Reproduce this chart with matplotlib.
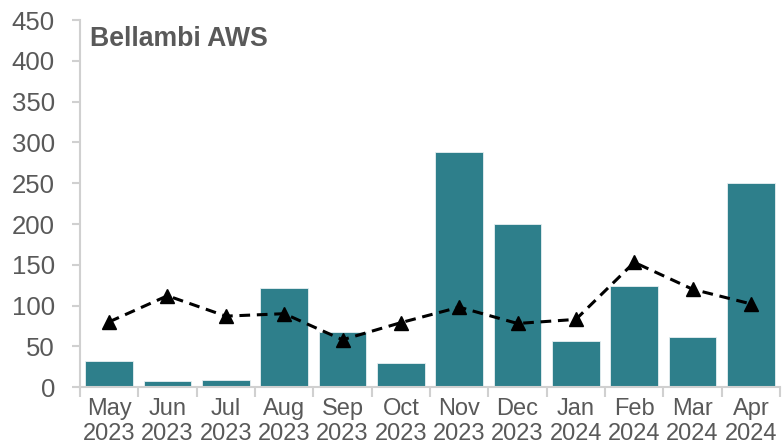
import matplotlib
matplotlib.use("Agg")
import matplotlib.pyplot as plt
import numpy as np

months = ["May", "Jun", "Jul", "Aug", "Sep", "Oct", "Nov", "Dec", "Jan", "Feb", "Mar", "Apr"]
years = ["2023"] * 8 + ["2024"] * 4
rainfall = [32, 7, 9, 122, 68, 29, 288, 200, 57, 124, 62, 250]
mean_rain = [80, 112, 87, 90, 58, 79, 98, 78, 83, 153, 120, 102]
yticks = [0, 50, 100, 150, 200, 250, 300, 350, 400, 450]
title = "Bellambi AWS"

plt.rcParams['font.family'] = ['Liberation Sans', 'DejaVu Sans']
grey = "#595959"
spine_col = "#D0D0D0"

fig = plt.figure(figsize=(7.84, 4.48), dpi=100)
ax = fig.add_axes([0.102, 0.136, 0.893, 0.819])

x = np.arange(len(months))
ax.bar(x, rainfall, width=0.82, color="#2E7F8B", edgecolor="#E8F0F2", linewidth=0.6, zorder=2)
ax.plot(x, mean_rain, color="black", linestyle=(0, (3.5, 2.2)), linewidth=2.2,
        marker="^", markersize=10, markerfacecolor="black", markeredgecolor="black", zorder=3)

ax.set_xlim(-0.5, len(months) - 0.5)
ax.set_ylim(0, 450)
ax.set_yticks(yticks)
ax.set_yticklabels([str(v) for v in yticks])

ax.set_xticks(x)
ax.set_xticklabels([f"{m}\n{y}" for m, y in zip(months, years)], linespacing=1.15)
ax.set_xticks(np.arange(-0.5, len(months), 1.0), minor=True)
ax.tick_params(axis="x", which="major", length=0, pad=8, labelsize=17, labelcolor=grey)
ax.tick_params(axis="x", which="minor", length=7, width=1.5, color=spine_col, direction="out")
ax.tick_params(axis="y", length=6, width=1.5, color=spine_col, direction="out", pad=12,
               labelsize=18.5, labelcolor=grey)

for s in ["top", "right"]:
    ax.spines[s].set_visible(False)
for s in ["left", "bottom"]:
    ax.spines[s].set_color(spine_col)
    ax.spines[s].set_linewidth(1.5)

ax.text(0.014, 0.985, title, transform=ax.transAxes, ha="left", va="top",
        fontsize=19.2, fontweight="bold", color=grey)

fig.savefig("out.png", dpi=100)
